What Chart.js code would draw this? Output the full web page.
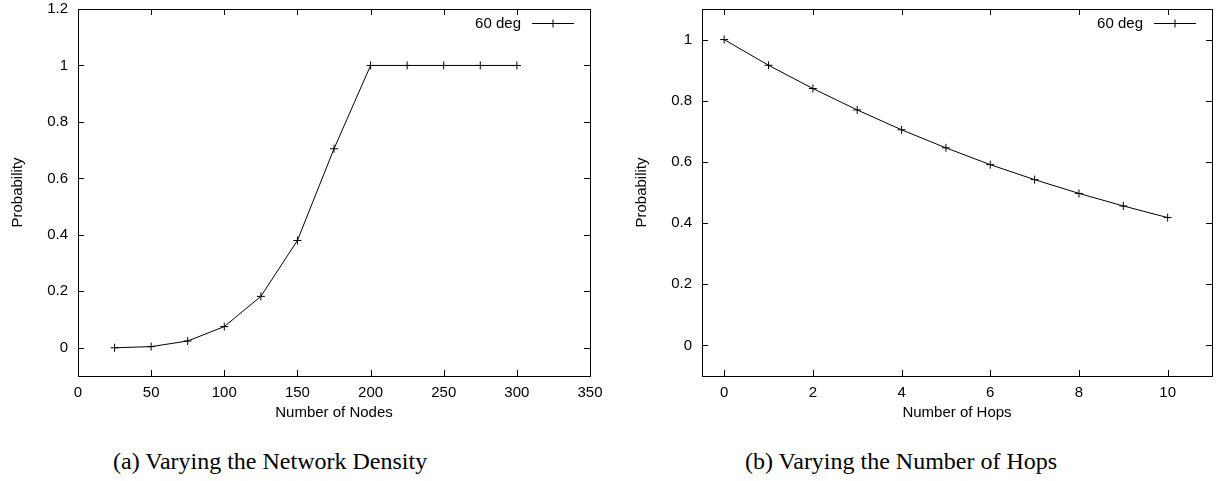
<!DOCTYPE html>
<html>
<head>
<meta charset="utf-8">
<script src="https://cdn.jsdelivr.net/npm/chart.js@4.4.0/dist/chart.umd.min.js"></script>
<style>
  body { margin: 0; background: #fff; width: 1220px; height: 481px; position: relative; overflow: hidden; }
  canvas { position: absolute; top: 0; }
  #chartA { left: 0; }
  #chartB { left: 624px; }
  .caption { position: absolute; top: 448px; font-family: "Liberation Serif", serif; font-size: 24px; color: #000; white-space: nowrap; }
  #capA { left: 113px; }
  #capB { left: 745px; }
</style>
</head>
<body>
<canvas id="chartA" width="614" height="430"></canvas>
<canvas id="chartB" width="596" height="430"></canvas>
<div class="caption" id="capA">(a) Varying the Network Density</div>
<div class="caption" id="capB">(b) Varying the Number of Hops</div>
<script>
// (a) network density
const nodes = [25, 50, 75, 100, 125, 150, 175, 200, 225, 250, 275, 300];
const probNodes = [0, 0.004, 0.024, 0.075, 0.182, 0.38, 0.705, 1, 1, 1, 1, 1];
const nodesTicks = [0, 50, 100, 150, 200, 250, 300, 350];
const probTicksA = [0, 0.2, 0.4, 0.6, 0.8, 1, 1.2];

// (b) number of hops
const hops = [0, 1, 2, 3, 4, 5, 6, 7, 8, 9, 10];
const probHops = [1, 0.916, 0.84, 0.77, 0.705, 0.646, 0.591, 0.542, 0.497, 0.456, 0.418];
const hopsTicks = [0, 2, 4, 6, 8, 10];
const probTicksB = [0, 0.2, 0.4, 0.6, 0.8, 1];

const seriesLabel = '60 deg';
const fontFam = '"Liberation Sans", Arial, sans-serif';

Chart.defaults.color = '#000';
Chart.defaults.font.family = fontFam;
Chart.defaults.font.size = 15;

// gnuplot style frame: box, inward ticks on all sides, key top right
const gnuFrame = {
  id: 'gnuFrame',
  afterDraw(chart) {
    const ctx = chart.ctx;
    const a = chart.chartArea;
    const xs = chart.scales.x, ys = chart.scales.y;
    const t = 6;
    ctx.save();
    ctx.strokeStyle = '#000';
    ctx.lineWidth = 1;
    ctx.strokeRect(Math.round(a.left) + 0.5, Math.round(a.top) + 0.5, Math.round(a.right - a.left), Math.round(a.bottom - a.top));
    ctx.beginPath();
    xs.ticks.forEach(tk => {
      const px = Math.round(xs.getPixelForValue(tk.value)) + 0.5;
      ctx.moveTo(px, a.bottom); ctx.lineTo(px, a.bottom - t);
      ctx.moveTo(px, a.top); ctx.lineTo(px, a.top + t);
    });
    ys.ticks.forEach(tk => {
      const py = Math.round(ys.getPixelForValue(tk.value)) + 0.5;
      ctx.moveTo(a.left, py); ctx.lineTo(a.left + t, py);
      ctx.moveTo(a.right, py); ctx.lineTo(a.right - t, py);
    });
    ctx.stroke();

    // key
    const ky = Math.round(a.top + 14) + 0.5;
    const x1 = a.right - 58, x2 = a.right - 16, xm = (x1 + x2) / 2;
    ctx.font = '15px ' + fontFam;
    ctx.fillStyle = '#000';
    ctx.textAlign = 'right';
    ctx.textBaseline = 'middle';
    ctx.fillText(chart.data.datasets[0].label, a.right - 69, ky);
    ctx.beginPath();
    ctx.moveTo(x1, ky); ctx.lineTo(x2, ky);
    ctx.moveTo(xm - 4, ky); ctx.lineTo(xm + 4, ky);
    ctx.moveTo(xm, ky - 4); ctx.lineTo(xm, ky + 4);
    ctx.stroke();
    ctx.restore();
  }
};

function fmt(v) {
  return String(Math.round(v * 10) / 10);
}

function makeChart(id, xs, ys, xMin, xMax, yMin, yMax, xTicks, yTicks, xTitle, padRight) {
  return new Chart(document.getElementById(id), {
    type: 'line',
    data: {
      datasets: [{
        label: seriesLabel,
        data: xs.map((x, i) => ({ x: x, y: ys[i] })),
        borderColor: '#000',
        backgroundColor: '#000',
        borderWidth: 1,
        tension: 0,
        fill: false,
        pointStyle: 'cross',
        pointRadius: 4,
        pointBorderWidth: 1,
        pointBorderColor: '#000'
      }]
    },
    options: {
      responsive: false,
      animation: false,
      layout: { padding: { top: 9, right: padRight, left: 0, bottom: 0 } },
      plugins: { legend: { display: false }, tooltip: { enabled: false } },
      scales: {
        x: {
          type: 'linear',
          min: xMin, max: xMax,
          grid: { display: false, drawTicks: false },
          border: { display: false },
          afterBuildTicks(s) { s.ticks = xTicks.map(v => ({ value: v })); },
          afterFit(s) { s.height = 54; s.paddingLeft = 0; s.paddingRight = 0; },
          ticks: { padding: 8, maxRotation: 0, autoSkip: false, callback: v => fmt(v) },
          title: { display: true, text: xTitle, padding: { top: 0, bottom: 8 } }
        },
        y: {
          type: 'linear',
          min: yMin, max: yMax,
          grid: { display: false, drawTicks: false },
          border: { display: false },
          afterBuildTicks(s) { s.ticks = yTicks.map(v => ({ value: v })); },
          afterFit(s) { s.width = 78; s.paddingTop = 0; s.paddingBottom = 0; },
          ticks: { padding: 10, autoSkip: false, callback: v => fmt(v) },
          title: { display: true, text: 'Probability', padding: { top: 9, bottom: 0 } }
        }
      }
    },
    plugins: [gnuFrame]
  });
}

makeChart('chartA', nodes, probNodes, 0, 350, -0.1, 1.2, nodesTicks, probTicksA, 'Number of Nodes', 24);
makeChart('chartB', hops, probHops, -0.5, 11, -0.1, 1.1, hopsTicks, probTicksB, 'Number of Hops', 8);
</script>
</body>
</html>
